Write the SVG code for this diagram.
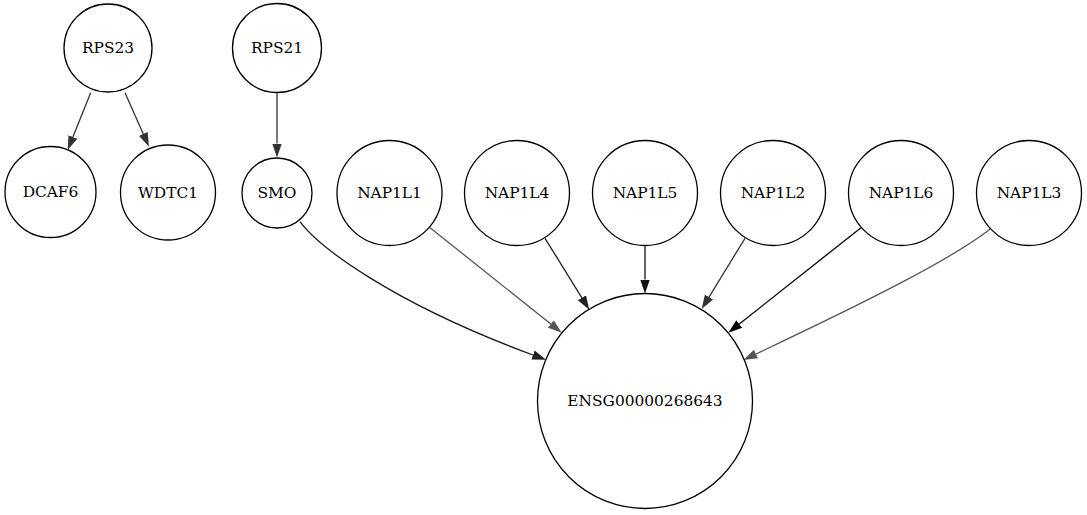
<svg xmlns="http://www.w3.org/2000/svg" width="1087" height="515" viewBox="0 0 1087 515">
<style>
.node circle{fill:#fff;stroke:#000;stroke-width:1.3}
.node text{font-family:"DejaVu Serif","Liberation Serif",serif;font-size:15.4px;text-anchor:middle;fill:#000}
.edge{fill:none;stroke-width:1.3}
</style>
<defs>
<marker id="a000" markerUnits="userSpaceOnUse" markerWidth="16" markerHeight="12" refX="0" refY="5" orient="auto" viewBox="0 0 16 10"><path d="M0,0.2 L14,5 L0,9.8z" fill="#000"/></marker>
<marker id="a111" markerUnits="userSpaceOnUse" markerWidth="16" markerHeight="12" refX="0" refY="5" orient="auto" viewBox="0 0 16 10"><path d="M0,0.2 L14,5 L0,9.8z" fill="#111"/></marker>
<marker id="a222" markerUnits="userSpaceOnUse" markerWidth="16" markerHeight="12" refX="0" refY="5" orient="auto" viewBox="0 0 16 10"><path d="M0,0.2 L14,5 L0,9.8z" fill="#222"/></marker>
<marker id="a333" markerUnits="userSpaceOnUse" markerWidth="16" markerHeight="12" refX="0" refY="5" orient="auto" viewBox="0 0 16 10"><path d="M0,0.2 L14,5 L0,9.8z" fill="#333"/></marker>
<marker id="a555" markerUnits="userSpaceOnUse" markerWidth="16" markerHeight="12" refX="0" refY="5" orient="auto" viewBox="0 0 16 10"><path d="M0,0.2 L14,5 L0,9.8z" fill="#555"/></marker>
</defs>
<rect width="1087" height="515" fill="#fff"/>
<g id="connectors">
<path class="edge" stroke="#333" marker-end="url(#a333)" d="M90.7,92.7 L72.9,137"/>
<path class="edge" stroke="#333" marker-end="url(#a333)" d="M125,92.7 L143.3,133.9"/>
<path class="edge" stroke="#333" marker-end="url(#a333)" d="M277,93 L277,143.5"/>
<path class="edge" stroke="#1a1a1a" marker-end="url(#a222)" d="M300,221.7 C318,246 390,302 533,355"/>
<path class="edge" stroke="#555" marker-end="url(#a555)" d="M430,227.7 L550.8,324"/>
<path class="edge" stroke="#222" marker-end="url(#a222)" d="M545,238.3 L581.9,297.8"/>
<path class="edge" stroke="#111" marker-end="url(#a111)" d="M645,245.5 L645,279.5"/>
<path class="edge" stroke="#333" marker-end="url(#a333)" d="M745,238.3 L709,297.1"/>
<path class="edge" stroke="#000" marker-end="url(#a000)" d="M861,227.7 L739.3,324"/>
<path class="edge" stroke="#555" marker-end="url(#a555)" d="M990,229.3 C950,260 870,300 756,354"/>
</g>
<g id="RPS23" class="node"><circle cx="108" cy="48" r="44"/><text x="108" y="53">RPS23</text></g>
<g id="RPS21" class="node"><circle cx="277" cy="48" r="44.5"/><text x="277" y="53">RPS21</text></g>
<g id="DCAF6" class="node"><circle cx="50.5" cy="192" r="45.5"/><text x="50.5" y="197">DCAF6</text></g>
<g id="WDTC1" class="node"><circle cx="168" cy="192.5" r="47.5"/><text x="168" y="197.5">WDTC1</text></g>
<g id="SMO" class="node"><circle cx="277" cy="193" r="35"/><text x="277" y="198">SMO</text></g>
<g id="NAP1L1" class="node"><circle cx="389.5" cy="193" r="52.5"/><text x="389.5" y="198">NAP1L1</text></g>
<g id="NAP1L4" class="node"><circle cx="517" cy="193" r="52.5"/><text x="517" y="198">NAP1L4</text></g>
<g id="NAP1L5" class="node"><circle cx="645" cy="193" r="52.5"/><text x="645" y="198">NAP1L5</text></g>
<g id="NAP1L2" class="node"><circle cx="773" cy="193" r="52.5"/><text x="773" y="198">NAP1L2</text></g>
<g id="NAP1L6" class="node"><circle cx="901" cy="193" r="52.5"/><text x="901" y="198">NAP1L6</text></g>
<g id="NAP1L3" class="node"><circle cx="1029" cy="193" r="52.5"/><text x="1029" y="198">NAP1L3</text></g>
<g id="ENSG00000268643" class="node"><circle cx="645" cy="401" r="107.5"/><text x="645" y="406">ENSG00000268643</text></g>
</svg>
